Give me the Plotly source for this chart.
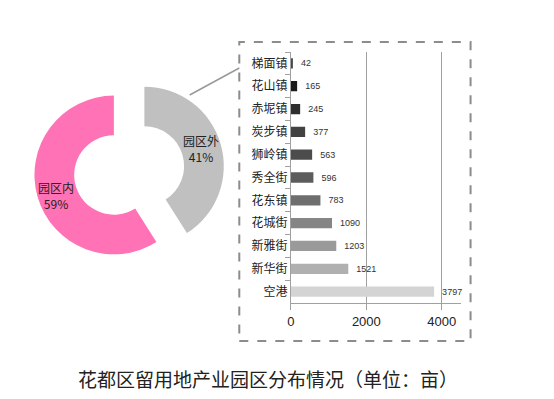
import plotly.graph_objects as go

# Browser window is 554x399; page body has an 8px margin, so the figure is 538x383
OFF = 8
W, H = 554 - 2 * OFF, 399 - 2 * OFF

pie_labels = ["园区外", "园区内"]
pie_values = [41, 59]
pie_colors = ["#c0c0c0", "#ff72b6"]

towns = ["梯面镇", "花山镇", "赤坭镇", "炭步镇", "狮岭镇", "秀全街", "花东镇", "花城街", "新雅街", "新华街", "空港"]
areas = [42, 165, 245, 377, 563, 596, 783, 1090, 1203, 1521, 3797]
bar_colors = ["#4a4a4a", "#1a1a1a", "#2e2e2e", "#424242", "#4c4c4c", "#5c5c5c", "#6e6e6e", "#858585", "#9a9a9a", "#b0b0b0", "#d4d4d4"]
x_ticks = [0, 2000, 4000]
title_text = "花都区留用地产业园区分布情况（单位：亩）"

FONT = "Noto Sans CJK SC, Microsoft YaHei, sans-serif"

def px(x):
    return (x - OFF) / W

def py(y):
    return 1 - (y - OFF) / H

fig = go.Figure()

fig.add_trace(go.Pie(
    labels=pie_labels, values=pie_values, sort=False, direction="clockwise",
    rotation=0, hole=0.5, pull=[0.2, 0.2],
    marker=dict(colors=pie_colors, line=dict(width=0)),
    textinfo="none",
    domain=dict(x=[px(30), px(222)], y=[py(266.5), py(74.5)]),
    showlegend=False, hoverinfo="label+percent",
))

fig.add_trace(go.Bar(
    y=towns, x=areas, orientation="h", marker=dict(color=bar_colors, line=dict(width=0)),
    width=0.45, text=["\u00a0\u00a0" + str(v) for v in areas], textposition="outside",
    textfont=dict(size=9, color="#333", family="Arial, Liberation Sans, sans-serif"),
    cliponaxis=False, showlegend=False,
))

# pie labels computed from the pie values
pie_label_pos = [(198, 148), (52, 195)]
total = sum(pie_values)
annotations = []
for lab, val, (ax, ay) in zip(pie_labels, pie_values, pie_label_pos):
    annotations.append(dict(
        text=f"{lab}<br>{round(100 * val / total)}%", xref="paper", yref="paper",
        x=px(ax), y=py(ay), xanchor="center", yanchor="middle", showarrow=False,
        font=dict(size=12, color="#222", family=FONT)))

annotations.append(dict(text=title_text, xref="paper", yref="paper", x=px(266), y=py(378),
                        xanchor="center", yanchor="middle", showarrow=False,
                        font=dict(size=19, color="#222", family=FONT)))

fig.update_layout(
    width=W, height=H, margin=dict(l=0, r=0, t=0, b=0),
    paper_bgcolor="white", plot_bgcolor="white",
    font=dict(family=FONT, color="#222"),
    xaxis=dict(domain=[px(289), px(460)], range=[0, 4500], tickvals=x_ticks,
               showgrid=True, gridcolor="#a0a0a0", gridwidth=1,
               showline=True, linecolor="#a0a0a0", linewidth=1,
               ticks="outside", ticklen=6, tickcolor="#a0a0a0",
               tickfont=dict(size=13, color="#222", family="Arial, Liberation Sans, sans-serif"),
               zeroline=False, fixedrange=True),
    yaxis=dict(domain=[py(303), py(52)], autorange="reversed", type="category",
               showline=True, linecolor="#a0a0a0", linewidth=1,
               ticks="outside", ticklen=5, tickcolor="#a0a0a0", tickson="boundaries",
               tickfont=dict(size=12, color="#222", family=FONT),
               showgrid=False, fixedrange=True),
    shapes=[
        dict(type="rect", xref="paper", yref="paper",
             x0=px(237), x1=px(470), y0=py(341), y1=py(42),
             line=dict(color="#8c8c8c", width=2, dash="dash")),
        dict(type="line", xref="paper", yref="paper",
             x0=px(187), y0=py(95), x1=px(237), y1=py(68),
             line=dict(color="#999", width=1.5)),
    ],
    annotations=annotations,
)

fig.write_html("out.html")
